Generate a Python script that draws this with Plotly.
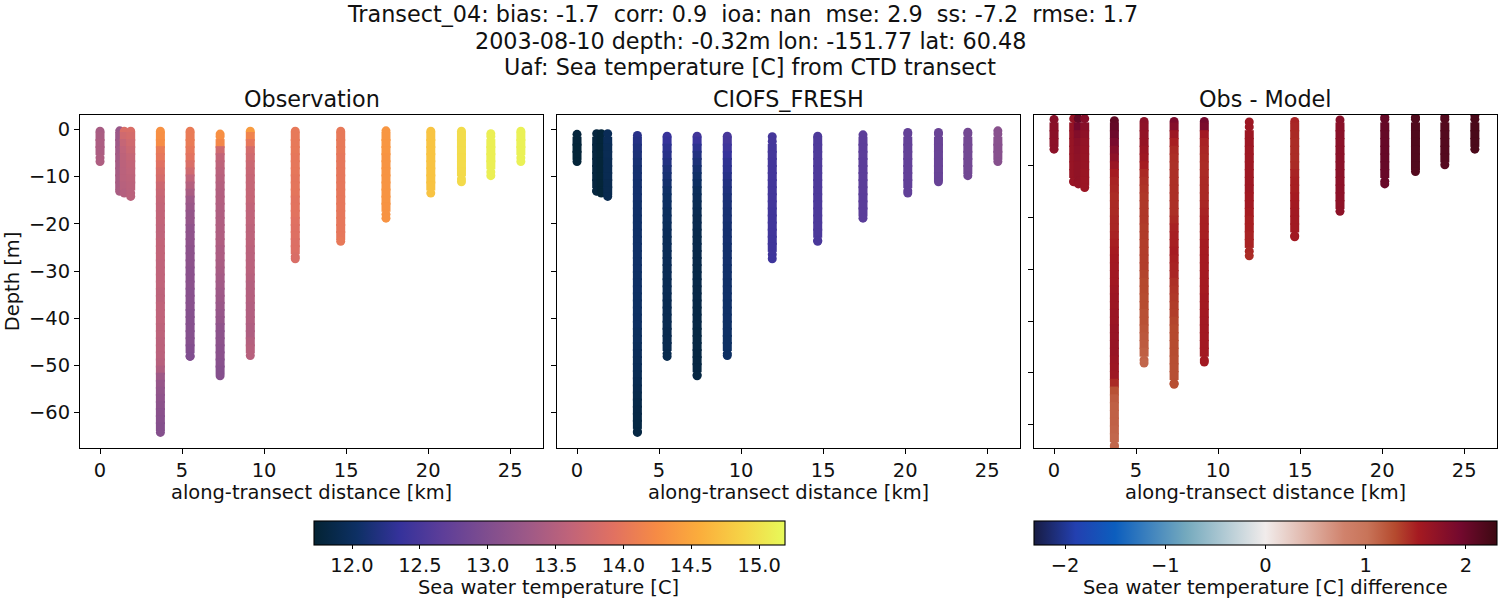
import plotly.graph_objects as go

# along-transect distance of each CTD cast [km]
station_km = [0.0, 1.2, 1.48, 1.87, 3.68, 5.49, 7.32, 9.16, 11.9, 14.67, 17.43, 20.16, 22.03, 23.82, 25.65]

# shallowest / deepest sample of each cast [m]
obs_top = [-0.4, -0.3, -0.4, -0.4, -0.4, -0.4, -1.0, -0.4, -0.4, -0.4, -0.3, -0.4, -0.4, -0.9, -0.4]
model_top = [-1.05, -0.9, -0.9, -0.9, -1.3, -1.45, -1.45, -1.45, -1.55, -1.45, -1.15, -0.65, -0.65, -0.6, -0.3]
bottom = [-6.8, -13.1, -13.5, -14.2, -64.2, -48.1, -52.2, -47.9, -27.4, -23.7, -18.8, -13.5, -11.1, -9.8, -6.8]

# depth levels
obs_levels = [0, -1.5, -3, -4.5, -6, -7.5, -9, -10.5, -12, -13.5, -15, -16.5, -18, -19.5, -21, -22.5,
              -24, -25.5, -27, -28.5, -30, -31.5, -33, -34.5, -36, -37.5, -39, -40.5, -42, -43.5, -45,
              -46.5, -48, -49.5, -51, -52.5, -54, -55.5, -57, -58.5, -60, -61.5, -63, -64.5]
model_levels = [-1, -2.5, -4, -5.5, -7, -8.5, -10, -11.5, -13, -14.5, -16, -17.5, -19, -20.5, -22, -23.5,
                -25, -26.5, -28, -29.5, -31, -32.5, -34, -35.5, -37, -38.5, -40, -41.5, -43, -44.5, -46,
                -47.5, -49, -50.5, -52, -53.5, -55, -56.5, -58, -59.5, -61, -62.5, -64]

obs_temp = [
    [13.38, 13.40, 13.42, 13.42, 13.43, 13.44],
    [13.25, 13.28, 13.30, 13.33, 13.35, 13.36, 13.37, 13.38, 13.38, 13.40],
    [13.85, 13.75, 13.65, 13.60, 13.58, 13.56, 13.55, 13.55, 13.52, 13.50],
    [13.85, 13.80, 13.75, 13.70, 13.65, 13.62, 13.60, 13.58, 13.56, 13.55, 13.55],
    [14.30, 14.28, 14.25, 14.05, 14.00, 13.92, 13.85, 13.80, 13.72, 13.68, 13.65, 13.63, 13.62, 13.62, 13.60,
     13.60, 13.62, 13.62, 13.62, 13.60, 13.60, 13.60, 13.60, 13.58, 13.58, 13.60, 13.60, 13.60, 13.58, 13.58,
     13.56, 13.56, 13.55, 13.52, 13.45, 13.30, 13.22, 13.18, 13.15, 13.12, 13.10, 13.08, 13.05, 13.05],
    [14.05, 14.05, 14.05, 14.00, 13.95, 13.85, 13.75, 13.60, 13.50, 13.40, 13.30, 13.25, 13.20, 13.20, 13.15,
     13.15, 13.15, 13.12, 13.12, 13.12, 13.10, 13.10, 13.10, 13.08, 13.08, 13.08, 13.05, 13.05, 13.05, 13.05,
     13.05, 13.02, 13.00, 13.00],
    [14.30, 14.28, 14.20, 13.75, 13.62, 13.58, 13.55, 13.52, 13.50, 13.48, 13.48, 13.46, 13.45, 13.45, 13.45,
     13.45, 13.45, 13.42, 13.42, 13.40, 13.38, 13.35, 13.32, 13.30, 13.28, 13.25, 13.22, 13.20, 13.15, 13.12,
     13.12, 13.10, 13.10, 13.08, 13.05, 13.05],
    [14.40, 14.15, 14.00, 13.80, 13.75, 13.70, 13.68, 13.66, 13.65, 13.65, 13.65, 13.62, 13.60, 13.60, 13.58,
     13.58, 13.58, 13.56, 13.55, 13.55, 13.55, 13.52, 13.50, 13.50, 13.50, 13.48, 13.48, 13.48, 13.45, 13.45,
     13.50, 13.52, 13.52],
    [14.02, 14.02, 14.02, 14.02, 14.00, 14.00, 14.00, 13.98, 13.98, 13.98, 13.95, 13.95, 13.95, 13.92, 13.90,
     13.90, 13.88, 13.88, 13.85, 13.85],
    [14.02, 14.02, 14.02, 14.02, 14.00, 14.00, 14.00, 14.00, 14.00, 14.00, 14.00, 14.00, 14.00, 14.00, 14.00,
     14.00, 14.02],
    [14.35, 14.35, 14.35, 14.35, 14.33, 14.33, 14.33, 14.33, 14.33, 14.33, 14.33, 14.32, 14.32, 14.32],
    [14.75, 14.75, 14.75, 14.75, 14.75, 14.74, 14.74, 14.74, 14.74, 14.74],
    [14.95, 14.95, 14.95, 14.95, 14.94, 14.94, 14.93, 14.93, 14.93],
    [15.10, 15.10, 15.10, 15.10, 15.10, 15.10, 15.10, 15.10],
    [15.12, 15.12, 15.12, 15.12, 15.12, 15.12],
]

model_temp = [
    [11.78, 11.77, 11.76, 11.76, 11.76],
    [11.80, 11.80, 11.80, 11.80, 11.80, 11.80, 11.80, 11.80, 11.80, 11.80],
    [11.76, 11.76, 11.76, 11.76, 11.76, 11.76, 11.76, 11.76, 11.76, 11.76],
    [11.95, 11.95, 11.93, 11.93, 11.92, 11.92, 11.92, 11.90, 11.90, 11.90],
    [12.25, 12.22, 12.18, 12.15, 12.12, 12.10, 12.10, 12.08, 12.08, 12.08, 12.06, 12.06, 12.05, 12.05, 12.05,
     12.05, 12.05, 12.05, 12.05, 12.05, 12.04, 12.04, 12.04, 12.03, 12.03, 12.03, 12.02, 12.02, 12.00, 12.00,
     11.98, 11.97, 11.96, 11.95, 11.93, 11.92, 11.90, 11.88, 11.86, 11.85, 11.84, 11.83, 11.82, 11.82],
    [12.38, 12.34, 12.28, 12.24, 12.20, 12.15, 12.12, 12.08, 12.05, 12.03, 12.02, 12.00, 12.00, 11.98, 11.97,
     11.96, 11.96, 11.95, 11.95, 11.94, 11.94, 11.93, 11.93, 11.92, 11.92, 11.92, 11.91, 11.91, 11.90, 11.90,
     11.90, 11.89, 11.89],
    [12.45, 12.38, 12.28, 12.20, 12.15, 12.10, 12.06, 12.02, 11.98, 11.96, 11.93, 11.92, 11.90, 11.90, 11.89,
     11.88, 11.88, 11.87, 11.87, 11.86, 11.86, 11.86, 11.85, 11.85, 11.85, 11.84, 11.84, 11.84, 11.83, 11.83,
     11.83, 11.82, 11.82, 11.82, 11.82, 11.82],
    [12.50, 12.48, 12.42, 12.36, 12.30, 12.28, 12.24, 12.20, 12.18, 12.15, 12.14, 12.12, 12.12, 12.10, 12.10,
     12.10, 12.08, 12.08, 12.08, 12.07, 12.07, 12.06, 12.06, 12.06, 12.05, 12.05, 12.05, 12.04, 12.04, 12.03,
     12.03, 12.03, 12.02],
    [12.48, 12.48, 12.47, 12.47, 12.46, 12.46, 12.46, 12.45, 12.45, 12.45, 12.45, 12.44, 12.44, 12.44, 12.44,
     12.43, 12.43, 12.43, 12.42],
    [12.55, 12.55, 12.55, 12.55, 12.55, 12.54, 12.54, 12.54, 12.54, 12.54, 12.53, 12.53, 12.53, 12.53, 12.53, 12.52, 12.52],
    [12.66, 12.66, 12.66, 12.66, 12.65, 12.65, 12.65, 12.65, 12.65, 12.64, 12.64, 12.64, 12.64],
    [12.72, 12.72, 12.72, 12.72, 12.72, 12.71, 12.71, 12.71, 12.70, 12.70, 12.70],
    [12.78, 12.78, 12.78, 12.78, 12.77, 12.77, 12.77, 12.76, 12.76],
    [12.88, 12.88, 12.88, 12.88, 12.87, 12.87, 12.87, 12.86],
    [13.08, 13.08, 13.08, 13.07, 13.07, 13.06],
]

obs_minus_model = [
    [1.78, 1.76, 1.75, 1.74, 1.74],
    [1.66, 1.66, 1.65, 1.65, 1.65, 1.65, 1.64, 1.64, 1.64, 1.64],
    [2.05, 1.95, 1.82, 1.76, 1.74, 1.72, 1.70, 1.70, 1.70, 1.68],
    [1.80, 1.78, 1.72, 1.68, 1.66, 1.65, 1.64, 1.63, 1.62, 1.62],
    [2.08, 2.05, 1.98, 1.90, 1.80, 1.72, 1.62, 1.52, 1.48, 1.46, 1.44, 1.45, 1.45, 1.46, 1.46,
     1.48, 1.50, 1.52, 1.54, 1.55, 1.56, 1.56, 1.58, 1.60, 1.60, 1.62, 1.62, 1.64, 1.64, 1.64,
     1.64, 1.62, 1.60, 1.58, 1.45, 1.25, 1.18, 1.15, 1.14, 1.14, 1.12, 1.10, 1.10, 1.10],
    [1.75, 1.72, 1.68, 1.66, 1.62, 1.58, 1.52, 1.45, 1.42, 1.40, 1.38, 1.38, 1.38, 1.38, 1.36,
     1.36, 1.35, 1.35, 1.35, 1.35, 1.32, 1.30, 1.30, 1.28, 1.28, 1.25, 1.25, 1.22, 1.20, 1.18,
     1.15, 1.12, 1.10],
    [1.88, 1.80, 1.60, 1.50, 1.45, 1.43, 1.42, 1.42, 1.42, 1.42, 1.42, 1.42, 1.42, 1.45, 1.48,
     1.50, 1.50, 1.52, 1.50, 1.48, 1.46, 1.42, 1.40, 1.38, 1.36, 1.35, 1.32, 1.30, 1.30, 1.28,
     1.28, 1.27, 1.26, 1.26, 1.26, 1.26],
    [1.95, 1.88, 1.55, 1.48, 1.46, 1.45, 1.44, 1.44, 1.45, 1.45, 1.45, 1.46, 1.48, 1.50, 1.50,
     1.50, 1.52, 1.52, 1.52, 1.52, 1.52, 1.52, 1.52, 1.54, 1.54, 1.54, 1.55, 1.55, 1.55, 1.55,
     1.55, 1.55, 1.55],
    [1.60, 1.60, 1.60, 1.60, 1.58, 1.58, 1.58, 1.58, 1.58, 1.58, 1.56, 1.55, 1.52, 1.50, 1.50,
     1.48, 1.48, 1.46, 1.44],
    [1.48, 1.46, 1.45, 1.44, 1.44, 1.44, 1.45, 1.48, 1.50, 1.50, 1.52, 1.54, 1.56, 1.56, 1.56, 1.56, 1.56],
    [1.78, 1.76, 1.76, 1.75, 1.75, 1.75, 1.75, 1.75, 1.74, 1.74, 1.74, 1.73, 1.73],
    [2.04, 2.04, 2.04, 2.04, 2.03, 2.03, 2.03, 2.03, 2.02, 2.02, 2.02],
    [2.18, 2.18, 2.18, 2.18, 2.18, 2.17, 2.17, 2.17, 2.16],
    [2.15, 2.15, 2.15, 2.15, 2.15, 2.15, 2.15, 2.14],
    [2.22, 2.22, 2.22, 2.22, 2.21, 2.21],
]

panel_titles = ["Observation", "CIOFS_FRESH", "Obs - Model"]
suptitle_lines = [
    "Transect_04: bias: -1.7  corr: 0.9  ioa: nan  mse: 2.9  ss: -7.2  rmse: 1.7",
    "2003-08-10 depth: -0.32m lon: -151.77 lat: 60.48",
    "Uaf: Sea temperature [C] from CTD transect",
]
x_ticks = [0, 5, 10, 15, 20, 25]
y_ticks = [0, -10, -20, -30, -40, -50, -60]
y_ticks_diff = [-10, -20, -30, -40, -50, -60]
temp_ticks = [12.0, 12.5, 13.0, 13.5, 14.0, 14.5, 15.0]
diff_ticks = [-2, -1, 0, 1, 2]

thermal = ["#032333", "#0d3064", "#35329b", "#5d3e99", "#7e4d8f", "#9e5987",
           "#c16479", "#e17161", "#f68b45", "#fbad3c", "#f6d346", "#e7fa5a"]
balance = [[0, "#181c43"], [0.09, "#2340b0"], [0.175, "#0c5ebe"], [0.33, "#75aabe"], [0.5, "#f1eceb"],
           [0.67, "#d0826c"], [0.72, "#c87459"], [0.78, "#b54a2e"], [0.83, "#a51a21"], [0.92, "#74092e"],
           [1, "#3c0912"]]

TICK_SIZE = 19.44
TITLE_SIZE = 22.3


def cast_points(levels, tops, values):
    # one flat x/y/c per panel, round ends on each cast and solid body between
    xs, ys, cs, symbols = [], [], [], []
    for km, top, deep, vals in zip(station_km, tops, bottom, values):
        depth = [top] + [d for d in levels if deep + 0.05 < d < top - 0.3] + [deep]
        assert len(depth) == len(vals), (km, len(depth), len(vals))
        sym = ["square"] * len(depth)
        sym[0] = sym[-1] = "circle"
        # a level right next to the end would show its corners, so round that one too
        if depth[0] - depth[1] < 1.0:
            sym[1] = "circle"
        if depth[-2] - depth[-1] < 1.0:
            sym[-2] = "circle"
        xs += [km] * len(depth)
        ys += depth
        cs += vals
        symbols += sym
    return xs, ys, cs, symbols


W, H = 1500, 600
fig = go.Figure()

panels = [
    (obs_levels, obs_top, obs_temp, "x", "y", "coloraxis"),
    (model_levels, model_top, model_temp, "x2", "y2", "coloraxis"),
    (model_levels, model_top, obs_minus_model, "x3", "y3", "coloraxis2"),
]
for levels, tops, values, xa, ya, cax in panels:
    xs, ys, cs, symbols = cast_points(levels, tops, values)
    fig.add_trace(go.Scatter(x=xs, y=ys, mode="markers", xaxis=xa, yaxis=ya, showlegend=False,
                             marker=dict(color=cs, coloraxis=cax, size=9, symbol=symbols, line_width=0)))

axis_style = dict(showgrid=False, zeroline=False, showline=True, mirror=True, linecolor="black", linewidth=1.1,
                  ticks="outside", ticklen=5, tickwidth=1.1, tickcolor="black",
                  tickfont=dict(size=TICK_SIZE, color="#111"))
x_domains = [(80, 543), (557, 1020), (1034, 1497)]
for i, (x0, x1) in enumerate(x_domains):
    suffix = "" if i == 0 else str(i + 1)
    fig.update_layout({
        "xaxis" + suffix: dict(domain=[x0 / W, x1 / W], range=[-1.22, 27.0], tickvals=x_ticks, anchor="y" + suffix,
                               **axis_style),
        "yaxis" + suffix: dict(domain=[1 - 448 / H, 1 - 115 / H], anchor="x" + suffix, **axis_style),
    })
    fig.add_annotation(text=panel_titles[i], x=(x0 + x1) / 2 / W, y=1 - 99 / H, xref="paper", yref="paper",
                       xanchor="center", yanchor="middle", showarrow=False, font=dict(size=TITLE_SIZE, color="#111"))
    fig.add_annotation(text="along-transect distance [km]", x=(x0 + x1) / 2 / W, y=1 - 492.5 / H, xref="paper",
                       yref="paper", xanchor="center", yanchor="middle", showarrow=False,
                       font=dict(size=TICK_SIZE, color="#111"))

fig.update_layout(
    yaxis=dict(range=[-67.5, 3.05], tickvals=y_ticks,
               title=dict(text="Depth [m]", font=dict(size=TICK_SIZE, color="#111"), standoff=4)),
    yaxis2=dict(range=[-67.5, 3.05], tickvals=y_ticks, showticklabels=False),
    yaxis3=dict(range=[-64.5, -0.2], tickvals=y_ticks_diff, showticklabels=False),
)

for line, px, py in zip(suptitle_lines, [742.5, 750, 750], [14, 41, 67]):
    fig.add_annotation(text=line, x=px / W, y=1 - py / H, xref="paper", yref="paper", xanchor="center",
                       yanchor="middle", showarrow=False, font=dict(size=TITLE_SIZE, color="#111"))

# colorbar titles placed as annotations, the built-in ones sit too low for the page
for label, px in [("Sea water temperature [C]", 548.5), ("Sea water temperature [C] difference", 1265)]:
    fig.add_annotation(text=label, x=px / W, y=1 - 587 / H, xref="paper", yref="paper", xanchor="center",
                       yanchor="middle", showarrow=False, font=dict(size=TICK_SIZE, color="#111"))

bar_style = dict(orientation="h", thickness=24, thicknessmode="pixels", lenmode="pixels", xanchor="center",
                 yanchor="top", y=1 - 521 / H, xpad=0, ypad=0, outlinecolor="black", outlinewidth=1.1,
                 ticks="outside", ticklen=4, tickwidth=1.1, tickcolor="black",
                 tickfont=dict(size=TICK_SIZE, color="#111"))
fig.update_layout(
    coloraxis=dict(colorscale=thermal, cmin=11.72, cmax=15.19,
                   colorbar=dict(x=549.5 / W, len=471, tickvals=temp_ticks,
                                 ticktext=[f"{t:.1f}" for t in temp_ticks], **bar_style)),
    coloraxis2=dict(colorscale=balance, cmin=-2.31, cmax=2.31,
                    colorbar=dict(x=1265.5 / W, len=463, tickvals=diff_ticks,
                                  ticktext=["\u22122", "\u22121", "0", "1", "2"], **bar_style)),
    width=W, height=H, margin=dict(l=0, r=0, t=0, b=0, autoexpand=False), plot_bgcolor="white", paper_bgcolor="white",
    font=dict(family="DejaVu Sans", color="#111"),
)

fig.write_html("out.html", config={"displayModeBar": False}, post_script="document.body.style.margin='0';")
